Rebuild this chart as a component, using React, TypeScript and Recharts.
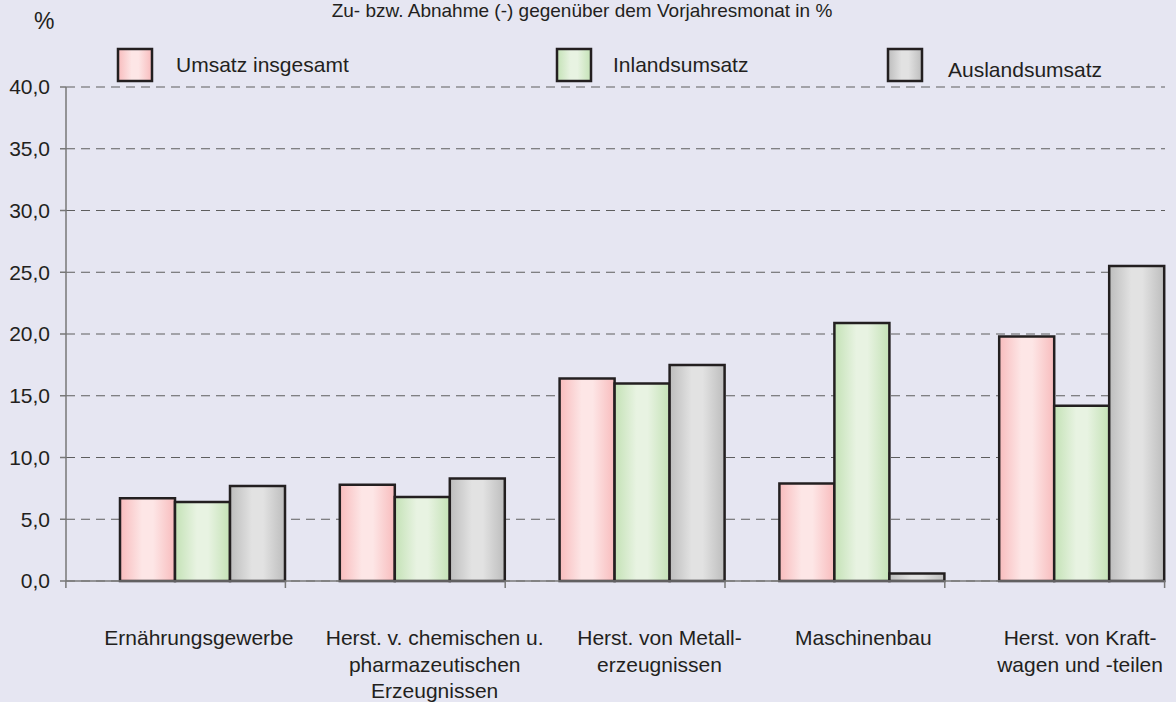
import { BarChart, Bar, XAxis, YAxis, CartesianGrid } from 'recharts'

const categories = [
  'Ernährungsgewerbe',
  'Herst. v. chemischen u.\npharmazeutischen\nErzeugnissen',
  'Herst. von Metall-\nerzeugnissen',
  'Maschinenbau',
  'Herst. von Kraft-\nwagen und -teilen',
]
const umsatzInsgesamt = [6.7, 7.8, 16.4, 7.9, 19.8]
const inlandsumsatz = [6.4, 6.8, 16.0, 20.9, 14.2]
const auslandsumsatz = [7.7, 8.3, 17.5, 0.6, 25.5]
const yTicks = [0, 5, 10, 15, 20, 25, 30, 35, 40]

const rows = categories.map((name, i) => ({
  name,
  gesamt: umsatzInsgesamt[i],
  inland: inlandsumsatz[i],
  ausland: auslandsumsatz[i],
}))

const FONT = '"Liberation Sans", Arial, sans-serif'
const BG = '#e6e6f2'
const INK = '#231f20'
const AXIS = '#777777'

// label nudges, the source placed them by hand
const LABEL_SHIFT = [-4, 12, 17, 1, -2]

const gradients = [
  { id: 'gPink', edge: '#f8bcbd', mid: '#fde6e6' },
  { id: 'gGreen', edge: '#c4e2b6', mid: '#e8f3e2' },
  { id: 'gGray', edge: '#bdbdbd', mid: '#e2e2e2' },
]

function GradDefs({ prefix }: { prefix: string }) {
  return (
    <defs>
      {gradients.map(g => (
        <linearGradient key={g.id} id={prefix + g.id} x1="0" y1="0" x2="1" y2="0">
          <stop offset="0%" stopColor={g.edge} />
          <stop offset="40%" stopColor={g.mid} />
          <stop offset="60%" stopColor={g.mid} />
          <stop offset="100%" stopColor={g.edge} />
        </linearGradient>
      ))}
    </defs>
  )
}

function CategoryTick(props: any) {
  const { x, y, payload, index } = props
  const lines = String(payload.value).split('\n')
  const cx = x + (LABEL_SHIFT[index] ?? 0)
  return (
    <g>
      <line x1={x + 82.5} y1={y} x2={x + 82.5} y2={y + 7} stroke={AXIS} strokeWidth={1.5} />
      {index === 0 && (
        <line x1={x - 137} y1={y} x2={x - 137} y2={y + 7} stroke={AXIS} strokeWidth={1.5} />
      )}
      <text x={cx} y={y + 64} textAnchor="middle" fontSize={21} fontFamily={FONT} fill={INK}>
        {lines.map((l, i) => (
          <tspan key={i} x={cx} dy={i === 0 ? 0 : 26.5}>
            {l}
          </tspan>
        ))}
      </text>
    </g>
  )
}

const legend = [
  { label: 'Umsatz insgesamt', fill: 'lgPink', x: 118, tx: 176, ty: 72 },
  { label: 'Inlandsumsatz', fill: 'lgGreen', x: 557, tx: 613, ty: 72 },
  { label: 'Auslandsumsatz', fill: 'lgGray', x: 888, tx: 948, ty: 77 },
]

export default function App() {
  return (
    <div style={{ position: 'absolute', left: 0, top: 0, width: 1176, height: 702, background: BG }}>
      <BarChart
        width={1176}
        height={702}
        data={rows}
        barGap={0}
        barSize={55}
        margin={{ top: 87, right: 11, left: 0, bottom: 11 }}
      >
        <GradDefs prefix="b" />
        <CartesianGrid vertical={false} stroke="#5e5e5e" strokeDasharray="9 6" />
        <XAxis
          dataKey="name"
          interval={0}
          height={110}
          padding={{ left: 27, right: -27 }}
          axisLine={{ stroke: AXIS, strokeWidth: 1.5 }}
          tickLine={false}
          tickSize={0}
          tickMargin={0}
          tick={<CategoryTick />}
        />
        <YAxis
          width={66}
          domain={[0, 40]}
          ticks={yTicks}
          interval={0}
          axisLine={{ stroke: AXIS, strokeWidth: 1.5 }}
          tickLine={{ stroke: AXIS, strokeWidth: 1.5 }}
          tickSize={6}
          tickMargin={10}
          tick={{ fontSize: 21, fontFamily: FONT, fill: INK }}
          tickFormatter={(v: number) => v.toFixed(1).replace('.', ',')}
        />
        <Bar dataKey="gesamt" fill="url(#bgPink)" stroke={INK} strokeWidth={2.5} isAnimationActive={false} />
        <Bar dataKey="inland" fill="url(#bgGreen)" stroke={INK} strokeWidth={2.5} isAnimationActive={false} />
        <Bar dataKey="ausland" fill="url(#bgGray)" stroke={INK} strokeWidth={2.5} isAnimationActive={false} />
      </BarChart>
      <svg
        width={1176}
        height={100}
        style={{ position: 'absolute', left: 0, top: 0, pointerEvents: 'none' }}
      >
        <GradDefs prefix="l" />
        <text x={582} y={17} textAnchor="middle" fontSize={19} fontFamily={FONT} fill={INK}>
          Zu- bzw. Abnahme (-) gegenüber dem Vorjahresmonat in %
        </text>
        <text x={34} y={29} fontSize={23} fontFamily={FONT} fill={INK}>
          %
        </text>
        {legend.map(l => (
          <g key={l.label}>
            <rect x={l.x} y={49} width={34} height={32} fill={`url(#${l.fill})`} stroke={INK} strokeWidth={2.5} />
            <text x={l.tx} y={l.ty} fontSize={21} fontFamily={FONT} fill={INK}>
              {l.label}
            </text>
          </g>
        ))}
      </svg>
    </div>
  )
}
